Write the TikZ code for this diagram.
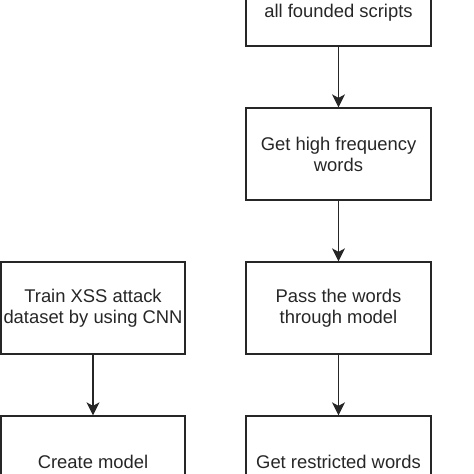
\documentclass[tikz,border=0pt]{standalone}
\usepackage{fontspec}
\setmainfont{Liberation Sans}
\usetikzlibrary{arrows.meta}
\begin{document}
\begin{tikzpicture}[x=1pt,y=-1pt,
  stepbox/.style={draw=black!85, line width=1.3pt, minimum width=185pt, minimum height=92pt,
    inner sep=0pt, align=center, font=\fontsize{18.4}{21}\selectfont, text=black!85},
  flow/.style={draw=black!85, line width=1.3pt, -{Stealth[length=13pt,width=13pt,inset=3.5pt]}}]
\useasboundingbox (0,0) rectangle (474,474);
\clip (0,0) rectangle (474,474);
\node[stepbox] (scripts) at (338.5,0) {\strut\\[3pt]all founded scripts};
\node[stepbox] (freq) at (338.5,154) {Get high frequency\\words};
\node[stepbox] (pass) at (338.5,308) {Pass the words\\through model};
\node[stepbox] (restr) at (338.5,462) {Get restricted words};
\node[stepbox, minimum width=184pt] (train) at (93,308) {Train XSS attack\\dataset by using CNN};
\node[stepbox, minimum width=184pt] (create) at (93,462) {Create model};
\draw[flow] (scripts) -- (freq);
\draw[flow] (freq) -- (pass);
\draw[flow] (pass) -- (restr);
\draw[flow] (train) -- (create);
\end{tikzpicture}
\end{document}
